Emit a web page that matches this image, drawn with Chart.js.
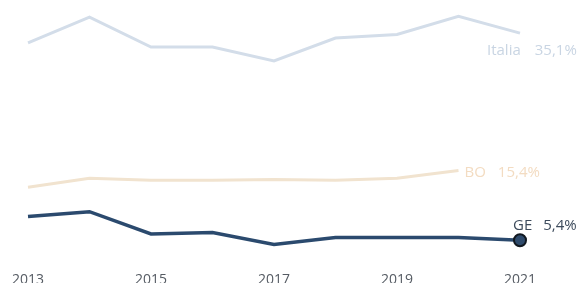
<!DOCTYPE html>
<html>
<head>
<meta charset="utf-8">
<script src="https://cdn.jsdelivr.net/npm/chart.js@4/dist/chart.umd.min.js"></script>
<style>
  html, body { margin: 0; padding: 0; background: #fff; }
  #wrap { width: 581px; height: 283px; }
</style>
</head>
<body>
<div id="wrap"><canvas id="myChart"></canvas></div>
<script>
// data
const years = ["2013", "2014", "2015", "2016", "2017", "2018", "2019", "2020", "2021"];
const italia = [33.7, 37.4, 33.1, 33.1, 31.1, 34.4, 34.9, 37.5, 35.1];
const bo = [13.0, 14.3, 14.0, 14.0, 14.1, 14.0, 14.3, 15.4, null];
const ge = [8.8, 9.5, 6.3, 6.5, 4.8, 5.8, 5.8, 5.8, 5.4];

const endLabels = [
    { name: "Italia", value: "35,1%", color: "#c9d5e3", dx: -33, dy: 18, gap: 14 },
    { name: "BO", value: "15,4%", color: "#f3dcc2", dx: 6, dy: 2, gap: 12 },
    { name: "GE", value: "5,4%", color: "#3d4b5c", dx: -7, dy: -15, gap: 11 },
];

// writes the name and value next to the last point of each line
const endLabelPlugin = {
    id: "endLabels",
    afterDatasetsDraw(chart) {
        const ctx = chart.ctx;
        ctx.save();
        ctx.font = "15px 'Open Sans'";
        ctx.textBaseline = "middle";
        ctx.textAlign = "left";
        chart.data.datasets.forEach((ds, i) => {
            const meta = chart.getDatasetMeta(i);
            let last = ds.data.length - 1;
            while (ds.data[last] == null) last--;
            const pt = meta.data[last];
            const lab = endLabels[i];
            const x = pt.x + lab.dx;
            const y = pt.y + lab.dy;
            ctx.fillStyle = lab.color;
            ctx.fillText(lab.name, x, y);
            ctx.fillText(lab.value, x + ctx.measureText(lab.name).width + lab.gap, y);
        });
        ctx.restore();
    },
};

const ctx = document.getElementById("myChart").getContext("2d");
const myChart = new Chart(ctx, {
    type: "line",
    data: {
        labels: years,
        datasets: [
            {
                label: "Italia",
                data: italia,
                borderColor: "#d3dde9",
                borderWidth: 3,
                pointRadius: 0,
                tension: 0,
            },
            {
                label: "BO",
                data: bo,
                borderColor: "#f1e3cf",
                borderWidth: 3,
                pointRadius: 0,
                tension: 0,
            },
            {
                label: "GE",
                data: ge,
                borderColor: "#2b4a6e",
                borderWidth: 3.5,
                pointRadius: ge.map((v, i) => (i === ge.length - 1 ? 6 : 0)),
                pointBackgroundColor: "#2f4b6c",
                pointBorderColor: "#111820",
                pointBorderWidth: 2,
                tension: 0,
            },
        ],
    },
    options: {
        responsive: true,
        maintainAspectRatio: false,
        animation: false,
        layout: { padding: { left: 28, right: 61, top: 0, bottom: 0 } },
        plugins: {
            legend: { display: false },
            tooltip: { enabled: false },
        },
        scales: {
            x: {
                offset: false,
                grid: { display: false },
                border: { display: false },
                ticks: {
                    color: "#555b63",
                    font: { family: "'Open Sans'", size: 14 },
                    padding: 7,
                    maxRotation: 0,
                    autoSkip: false,
                    callback: function (val, idx) {
                        return idx % 2 === 0 ? this.getLabelForValue(val) : "";
                    },
                },
                afterFit(scale) { scale.height = 26; },
            },
            y: {
                display: false,
                min: 3,
                max: 38.7,
            },
        },
    },
    plugins: [endLabelPlugin],
});
</script>
</body>
</html>
